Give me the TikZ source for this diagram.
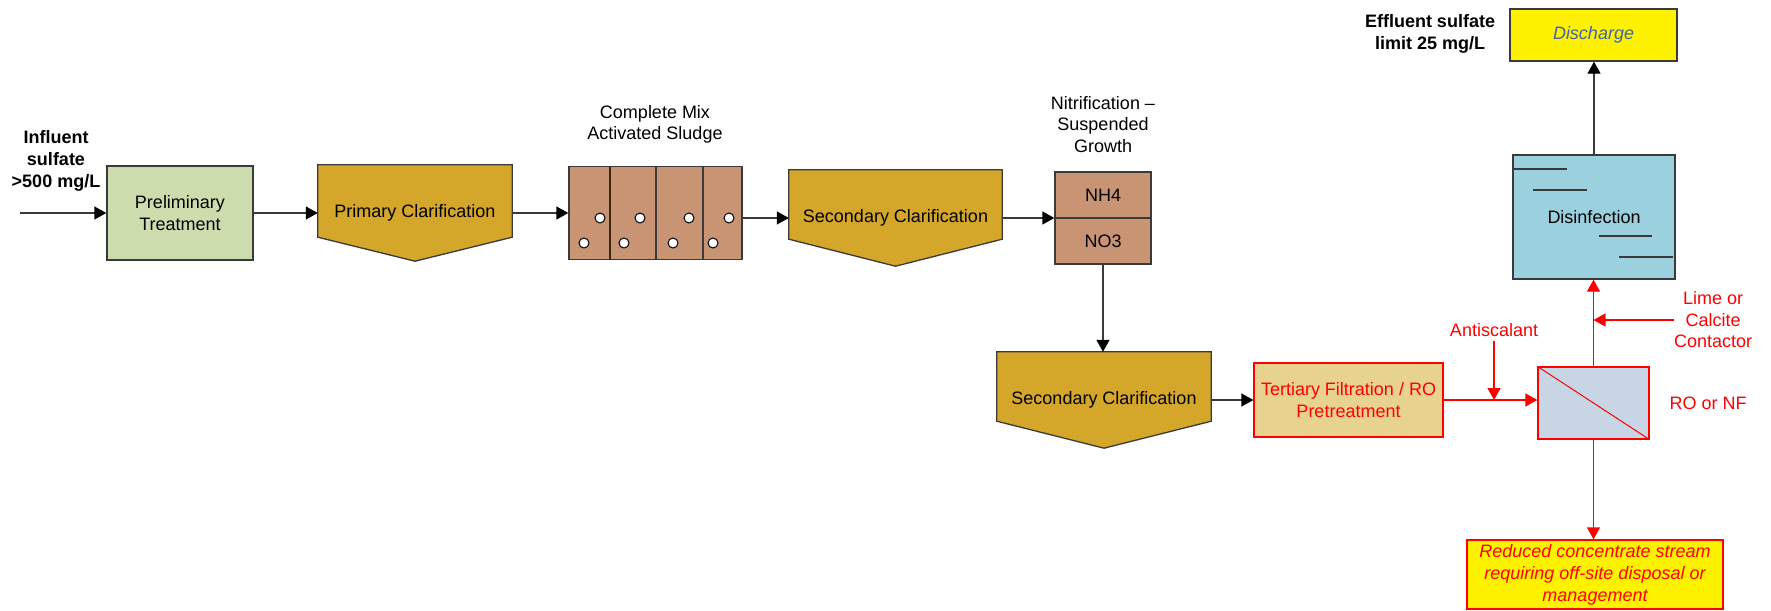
\documentclass[tikz,border=0pt]{standalone}
\usepackage{fontspec}
\setmainfont{Liberation Sans}
\usetikzlibrary{arrows.meta,calc,backgrounds}
\definecolor{edgegray}{HTML}{3A3A3A}
\definecolor{flowgray}{HTML}{3A3A3A}
\definecolor{prelimgreen}{HTML}{CDDCAC}
\definecolor{clargold}{HTML}{D4A62A}
\definecolor{sludgebrown}{HTML}{C89474}
\definecolor{disinfblue}{HTML}{9BD0DE}
\definecolor{tertfill}{HTML}{E8D28F}
\definecolor{rofill}{HTML}{C8D5E5}
\definecolor{dischblue}{HTML}{3F64A8}
\begin{document}
\begin{tikzpicture}[x=1pt,y=-1pt,
  lbl/.style={font=\fontsize{18}{21.5}\selectfont, align=center, inner sep=0pt},
  boldlbl/.style={lbl, font=\bfseries\fontsize{18}{22}\selectfont},
  redlbl/.style={lbl, text=red},
  procbox/.style={lbl, draw=edgegray, line width=1.3pt, rectangle},
  redbox/.style={lbl, draw=red, line width=1.3pt, rectangle, text=red},
  clar/.style={lbl, rectangle, minimum height=96pt},
  clarshape/.style={draw=edgegray, line width=1.3pt, fill=clargold},
  flow/.style={draw=flowgray, line width=1.3pt, -{Triangle[length=12pt,width=13pt,color=black]}},
  redflow/.style={draw=red, line width=1.3pt, -{Triangle[length=12pt,width=13pt]}},
  detail/.style={draw=edgegray, line width=1.3pt}
]
\useasboundingbox (0,0) rectangle (1771,610);

% ---- top row ----
\node[boldlbl] (influent) at (56,161) {Influent\\sulfate\\>500 mg/L};
\coordinate (inlet) at (20,213);
\node[procbox, fill=prelimgreen, minimum width=146pt, minimum height=94pt] (prelim) at (180,213) {Preliminary\\Treatment};
\node[clar, minimum width=194pt] (prim) at (415,213) {Primary Clarification};
\node[lbl] (cmlabel) at (655,124.5) {Complete Mix\\Activated Sludge};
\node[procbox, fill=sludgebrown, minimum width=173pt, minimum height=93pt] (sludge) at (655.5,213) {};
\node[clar, minimum width=213pt] (sec1) at (895.5,218) {Secondary Clarification};
\node[lbl] (nitlabel) at (1103,124.5) {Nitrification –\\Suspended\\Growth};
\node[procbox, fill=sludgebrown, minimum width=96pt, minimum height=46pt] (nh4) at (1103,195) {NH4};
\node[procbox, fill=sludgebrown, minimum width=96pt, minimum height=46pt] (no3) at (1103,241) {NO3};

% ---- second row ----
\node[clar, minimum width=214pt] (sec2) at (1104,400) {Secondary Clarification};
\node[redbox, fill=tertfill, minimum width=189pt, minimum height=74pt] (tert) at (1348.5,400) {Tertiary Filtration / RO\\Pretreatment};
\node[draw=red, fill=rofill, line width=1.3pt, rectangle, minimum width=111pt, minimum height=72pt, inner sep=0pt] (ro) at (1593.5,403) {};
\node[redlbl] (ronf) at (1708,403) {RO or NF};
\node[redlbl] (anti) at (1494,330) {Antiscalant};
\node[redlbl] (lime) at (1713,320) {Lime or\\Calcite\\Contactor};
\node[redbox, fill=yellow, minimum width=256pt, minimum height=69pt, font=\itshape\fontsize{18}{22}\selectfont] (reduced) at (1595,574.5) {Reduced concentrate stream\\requiring off-site disposal or\\management};

% ---- right column ----
\node[procbox, fill=disinfblue, minimum width=162pt, minimum height=124pt] (disinf) at (1594,217) {Disinfection};
\node[procbox, fill=yellow, minimum width=167pt, minimum height=52pt, text=dischblue, font=\itshape\fontsize{18}{21.5}\selectfont] (disch) at (1593.5,35) {Discharge};
\node[boldlbl] (eff) at (1430,34) {Effluent sulfate\\limit 25 mg/L};

% ---- clarifier shapes (behind text) ----
\begin{pgfonlayer}{background}
\fill[white] (0,0) rectangle (1771,610);
\draw[clarshape] (prim.north west) -- (prim.north east) -- ([yshift=24pt]prim.south east) -- (prim.south) -- ([yshift=24pt]prim.south west) -- cycle;
\draw[clarshape] (sec1.north west) -- (sec1.north east) -- ([yshift=27pt]sec1.south east) -- (sec1.south) -- ([yshift=27pt]sec1.south west) -- cycle;
\draw[clarshape] (sec2.north west) -- (sec2.north east) -- ([yshift=27pt]sec2.south east) -- (sec2.south) -- ([yshift=27pt]sec2.south west) -- cycle;
\end{pgfonlayer}

% ---- details ----
\draw[detail, draw=black!70!brown] (610,166.5) -- (610,259.5);
\draw[detail] (656,166.5) -- (656,259.5);
\draw[detail] (703,166.5) -- (703,259.5);
\foreach \cx/\cy in {600/218,640/218,689/218,729/218,584/243,624/243,673/243,713/243}
  \draw[line width=1pt, fill=white] (\cx,\cy) circle[radius=5pt];
\draw[detail] (1513,169) -- (1567,169);
\draw[detail] (1533,190) -- (1587,190);
\draw[detail] (1599,236) -- (1652,236);
\draw[detail] (1619,257) -- (1673,257);
\draw[red, line width=1pt] (ro.north west) -- (ro.south east);

% ---- connectors ----
\draw[flow] (inlet) -- (prelim.west);
\draw[flow] (prelim.east) -- (prim.west);
\draw[flow] (prim.east) -- (sludge.west);
\draw[flow] (sludge.east |- sec1.west) -- (sec1.west);
\draw[flow] (sec1.east) -- (sec1.east -| nh4.west);
\draw[flow] (no3.south) -- (no3.south |- sec2.north);
\draw[flow] (sec2.east |- tert.west) -- (tert.west);
\draw[redflow] (tert.east) -- (tert.east -| ro.west);
\draw[redflow, shorten <=4pt] (anti.south) -- (anti.south |- tert.east);
\draw[redflow] (ro.north) -- (ro.north |- disinf.south);
\draw[redflow] (lime.west) -- (lime.west -| ro.north);
\draw[redflow] (ro.south) -- (ro.south |- reduced.north);
\draw[flow] (disinf.north) -- (disinf.north |- disch.south);
\end{tikzpicture}
\end{document}
